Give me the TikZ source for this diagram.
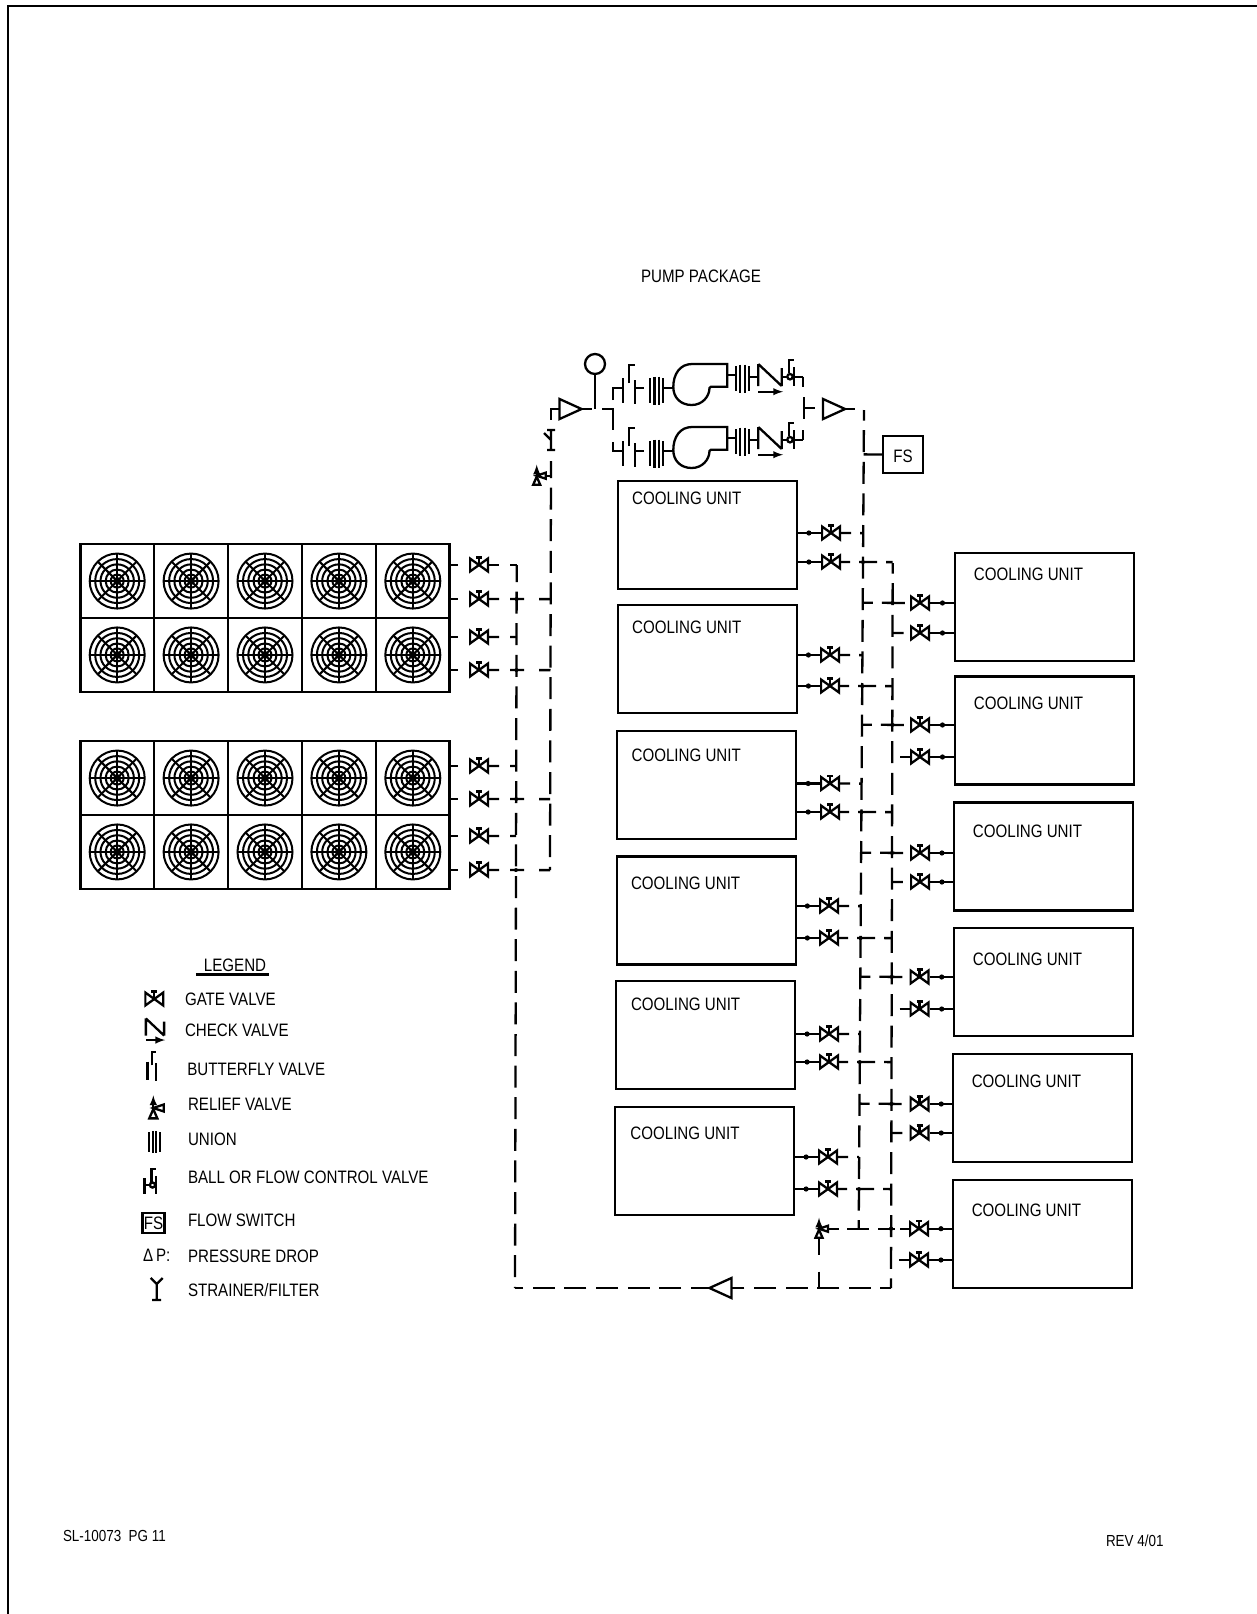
\documentclass[tikz,border=0pt]{standalone}
\usepackage{fontspec}
\setmainfont[FakeStretch=0.84]{Liberation Sans}
\usetikzlibrary{matrix,arrows,calc,shapes.geometric,decorations.markings}
\tikzset{
  drawtext/.style={font=\fontsize{18}{20}\selectfont, inner sep=0pt, outer sep=0pt},
  legendtext/.style={drawtext, anchor=west},
  doctext/.style={legendtext, font=\fontsize{16}{18}\selectfont},
  unitbox/.style={draw, minimum width=179pt, minimum height=108pt, inner sep=0pt, outer sep=0pt},
  fancell/.style={draw, minimum size=73.6pt, inner sep=0pt, outer sep=0pt,
    path picture={
      \begin{scope}[shift={(path picture bounding box.center)}, line width=2pt]
        \foreach \r in {27.5,22,16.7,11.5,6.5} \draw (0,0) circle[radius=\r];
        \foreach \a in {0,45,...,315} \draw (0,0) -- (\a:27.5);
        \fill (0,0) circle[radius=4];
      \end{scope}
    }},
  gatevalve/.style={minimum width=20pt, minimum height=20pt, inner sep=0pt, outer sep=0pt,
    path picture={
      \begin{scope}[shift={(path picture bounding box.center)}]
        \draw (-9,-6.5) -- (9,6.5) -- (9,-6.5) -- (-9,6.5) -- cycle;
        \draw (0,0) -- (0,-7) (-3,-7.5) -- (3,-7.5);
      \end{scope}
    }},
  reducer/.style={draw, fill=white, isosceles triangle, isosceles triangle stretches,
    minimum width=20pt, minimum height=22pt, inner sep=0pt, outer sep=0pt},
  pipe/.style={dash pattern=on 22pt off 9.6pt, dash phase=11.4pt},
  teedash/.style={dash pattern=on 10pt off 9pt on 6pt off 50pt},
  crossdash/.style={dash pattern=on 9pt off 9pt on 18pt off 9pt on 22pt off 50pt},
  rightdash/.style={dash pattern=on 10pt off 9pt on 23pt off 9pt on 10pt off 50pt},
  righttee/.style={dash pattern=on 11pt off 30pt},
  fantee/.style={dash pattern=on 10pt off 11pt on 8pt off 50pt},
  fancross/.style={dash pattern=on 10pt off 11pt on 14pt off 15pt on 14pt off 50pt},
  reliefline/.style={dash pattern=on 11pt off 8pt on 22pt off 9pt on 17pt off 5pt on 12pt off 50pt},
  reliefdrop/.style={dash pattern=on 17pt off 17pt on 20pt off 50pt},
  unitstub/.style={decoration={markings, mark=at position .5 with {\fill circle[radius=2.6];}}, postaction={decorate}},
  pics/unionjoint/.style={code={
    \draw (-6.5,-12.5) -- (-6.5,12.5) (-2.2,-14) -- (-2.2,14) (2.2,-14) -- (2.2,14) (6.5,-12.5) -- (6.5,12.5);
  }},
  pics/checkvalve/.style={code={
    \draw (-11.7,-11) -- (-11.7,11) (-11.7,-11) -- (11.7,11) (11.7,-7) -- (11.7,11);
    \draw[-latex] (-11.7,16.7) -- (13,16.7);
  }},
  pics/butterflyvalve/.style={code={
    \draw (-6,-6) -- (-6,19) (0,-1) -- (0,-19) -- (5.7,-19) (5.7,-4) -- (5.7,20);
  }},
  pics/ballvalve/.style={code={
    \draw (0,0) circle[radius=2.7];
    \draw (-1,-3.5) -- (-1,-16.7) -- (4,-16.7) (4,-9.7) -- (4,9.3) (-8.3,-7) -- (-8.3,9.3) (-8.3,0) -- (-2.7,0);
  }},
  pics/reliefvalve/.style={code={
    \draw (0,1) -- (-3.5,9) -- (3.5,9) -- cycle;
    \draw[-latex] (0,-1) -- (0,-11);
    \draw (0,0) -- (9,-3) -- (9,3) -- cycle;
    \coordinate (-side) at (9,0);
    \coordinate (-base) at (0,9);
  }},
  pics/strainer/.style={code={
    \draw (-4,-10) -- (4,-10) (0,-10) -- (0,10) (-4,10) -- (4,10) (0,0) -- (-7,-7);
  }},
  pics/strainerkey/.style={code={
    \draw (-6,-11) -- (0,-5) -- (6,-11) (0,-5) -- (0,11) (-4.5,11) -- (4.5,11);
  }},
  pics/pumpset/.style={code={
    \pic at (39.3,34) {butterflyvalve};
    \draw (45,38.3) -- (53.5,38.3);
    \pic at (66.7,40.5) {unionjoint};
    \draw (73.3,38.3) -- (83.3,38.3);
    \draw (137.3,14) -- (102,14) .. controls (90,14) and (83.3,24) .. (83.3,37)
      .. controls (83.3,48) and (91,55) .. (101.7,55) .. controls (112,55) and (119.3,47) .. (119.5,38)
      -- (121,36.7) -- (137.3,36.7) -- cycle;
    \draw (137.3,25) -- (145,25);
    \pic at (152.5,28.5) {unionjoint};
    \draw (160,26.7) -- (168.3,26.7);
    \pic at (180,25) {checkvalve};
    \pic at (200,26.7) {ballvalve};
    \draw (204,26.7) -- (213.3,26.7);
    \coordinate (-in) at (33.3,38.3);
    \coordinate (-out) at (213.3,26.7);
  }},
}

\begin{document}
\begin{tikzpicture}[x=1pt, y=-1pt, line width=2.3pt]
  \useasboundingbox (0,0) rectangle (1257,1614);
  \draw[line width=2.5pt] (1257,6) -- (8,6) -- (8,1614);

  \node[drawtext] (pumptitle) at (701,276) {PUMP PACKAGE};
  \node[doctext] (docid) at (63,1536) {SL-10073~~PG 11};
  \node[doctext] (docrev) at (1106,1541) {REV 4/01};

  \matrix (fanA) at (265,618) [matrix of nodes, nodes in empty cells, inner sep=0pt, column sep=-2pt, row sep=-2pt, nodes={fancell}]
  {
    & & & & \\
    & & & & \\
  };
  \matrix (fanB) at (265,815) [matrix of nodes, nodes in empty cells, inner sep=0pt, column sep=-2pt, row sep=-2pt, nodes={fancell}]
  {
    & & & & \\
    & & & & \\
  };

  \foreach \id/\cx/\cy/\tx/\ty in {1/707.3/535/686.7/498, 2/707.3/659/686.7/627, 3/706.8/785/686.2/755,
    4/706.2/910.6/685.6/883, 5/705.7/1035.2/685.6/1004, 6/704.7/1161.3/685/1133.5}{
    \node[unitbox] (lu\id) at (\cx,\cy) {};
    \node[drawtext] (lutext\id) at (\tx,\ty) {COOLING UNIT};
  }
  \foreach \id/\cx/\cy/\tx/\ty in {1/1044.4/606.9/1028.5/574.5, 2/1044.4/730.4/1028.5/703, 3/1043.4/856.5/1027.5/831,
    4/1043.4/982.1/1027.5/959.5, 5/1042.4/1107.8/1026.4/1081, 6/1042.4/1233.9/1026.4/1210.7}{
    \node[unitbox] (ru\id) at (\cx,\cy) {};
    \node[drawtext] (rutext\id) at (\tx,\ty) {COOLING UNIT};
  }

  \coordinate (pipeAtop) at (864,410);
  \coordinate (pipeAbot) at (858.7,1229);
  \coordinate (pipeBtop) at (892.7,563);
  \coordinate (pipeBbot) at (891,1288);
  \coordinate (pipeRtop) at (516.7,565);
  \coordinate (pipeRbot) at (515,1288);
  \coordinate (pipeSgap) at (551,420);
  \coordinate (pipeStop) at (551,461);
  \coordinate (pipeSbot) at (550,870);

  \draw[pipe] (pipeAtop) -- (pipeAbot);
  \draw[pipe] (pipeBtop) -- (pipeBbot);
  \draw[pipe] (pipeBbot) -- (pipeRbot);
  \draw[pipe, dash phase=5pt] (pipeRtop) -- (pipeRbot);
  \draw[pipe, dash phase=5pt] (pipeStop) -- (pipeSbot);
  \node[reducer, shape border rotate=180] (redR) at (725,1288) {};

  \foreach \id/\x/\ya/\yb in {1/831/533/562, 2/830/655/686, 3/830/783.5/812, 4/829/906/938, 5/829/1034/1062, 6/828/1157/1189}{
    \node[gatevalve] (lv\id-a) at (\x,\ya) {};
    \node[gatevalve] (lv\id-b) at (\x,\yb) {};
    \draw[unitstub] (lv\id-a.west -| lu\id.east) -- (lv\id-a.west);
    \draw[unitstub] (lv\id-b.west -| lu\id.east) -- (lv\id-b.west);
    \draw[teedash] (lv\id-a.east) -- ($(pipeAtop)!(lv\id-a.east)!(pipeAbot)$);
    \draw[crossdash] (lv\id-b.east) -- ($(pipeBtop)!(lv\id-b.east)!(pipeBbot)$);
    \fill ($(pipeAtop)!(lv\id-b.east)!(pipeAbot)$) circle[radius=2];
  }

  \foreach \id/\x/\ya/\yb in {1/920/603/633, 2/920/725/757, 3/920/853/882, 4/919.5/977/1009, 5/919.5/1104/1133, 6/919/1228.7/1260}{
    \node[gatevalve] (rv\id-a) at (\x,\ya) {};
    \node[gatevalve] (rv\id-b) at (\x,\yb) {};
    \draw[unitstub] (rv\id-a.east) -- (rv\id-a.east -| ru\id.west);
    \draw[unitstub] (rv\id-b.east) -- (rv\id-b.east -| ru\id.west);
    \fill ($(pipeBtop)!(rv\id-a.west)!(pipeBbot)$) circle[radius=2];
  }
  \foreach \id in {1,2,3,4,5}{
    \draw[rightdash] ($(pipeAtop)!(rv\id-a.west)!(pipeAbot)$) -- (rv\id-a.west);
  }
  \foreach \id in {1,3,5}{
    \draw[righttee] ($(pipeBtop)!(rv\id-b.west)!(pipeBbot)$) -- (rv\id-b.west);
  }
  \foreach \id in {2,4,6}{
    \coordinate (rs\id) at ([xshift=-10pt]rv\id-b.west);
    \draw (rs\id) -- (rv\id-b.west);
  }

  \foreach \id/\fan/\y in {1/fanA/565, 2/fanA/599, 3/fanA/637, 4/fanA/670, 5/fanB/766, 6/fanB/799, 7/fanB/836, 8/fanB/870}{
    \node[gatevalve] (fv\id) at (479,\y) {};
    \coordinate (fe\id) at ([xshift=8pt]fv\id.west -| \fan-1-5.east);
    \draw (fv\id.west -| \fan-1-5.east) -- (fe\id);
  }
  \draw[fantee] (fv1.east) -- (pipeRtop);
  \foreach \id in {3,5,7}{
    \draw[fantee] (fv\id.east) -- ($(pipeRtop)!(fv\id.east)!(pipeRbot)$);
  }
  \foreach \id in {2,4,6,8}{
    \draw[fancross] (fv\id.east) -- ($(pipeStop)!(fv\id.east)!(pipeSbot)$);
    \fill ($(pipeRtop)!(fv\id.east)!(pipeRbot)$) circle[radius=2];
  }

  \node[reducer] (redS) at (566,409) {};
  \node[reducer] (redD) at (829.5,409) {};
  \node[draw, circle, minimum size=20pt, inner sep=0pt, outer sep=0pt] (gauge) at (595,364) {};
  \coordinate (pumpTee) at (592,409);
  \coordinate (pumpHead) at (602,409);
  \coordinate (pumpDrop) at (612.7,430);
  \coordinate (pumpRiseU) at (612.7,400);
  \coordinate (pumpRiseL) at (612.7,442);
  \coordinate (headU) at (803.3,387);
  \coordinate (headL) at (803.3,430);
  \coordinate (headTop) at (804,397);
  \coordinate (headBot) at (804,419);
  \coordinate (headMid) at (804,408);
  \coordinate (headStub) at (815,408);
  \coordinate (headOut) at (855,409);
  \pic (pumpU) at (590,350) {pumpset};
  \pic (pumpL) at (590,413) {pumpset};
  \draw (redS.west) -| (pipeSgap);
  \draw (redS.east) -- (pumpTee);
  \draw (gauge.south) -- (gauge.south |- pumpHead);
  \draw (pumpHead) -| (pumpDrop);
  \draw (pumpRiseU) |- (pumpU-in);
  \draw (pumpRiseL) |- (pumpL-in);
  \draw (pumpU-out) -- (headU);
  \draw (pumpL-out) -- (headL);
  \draw (headTop) -- (headBot);
  \draw (headMid) -- (headStub);
  \draw (redD.east) -- (headOut);

  \node[draw, drawtext, minimum width=40pt, minimum height=37pt] (fsbox) at (903,454.5) {\raisebox{-3pt}[10pt][0pt]{FS}};
  \draw (fsbox.west) -- ($(pipeAtop)!(fsbox.west)!(pipeAbot)$);

  \pic at (551,440) {strainer};
  \pic (reliefS) at (536.7,475.7) {reliefvalve};
  \draw (reliefS-side) -- (reliefS-side -| pipeStop);
  \pic (reliefL) at (819,1228.7) {reliefvalve};
  \draw[reliefline] (reliefL-side) -- (rv6-a.west);
  \draw[reliefdrop] (reliefL-base) -- (reliefL-base |- pipeBbot);
  \fill (pipeBbot |- rv6-a.west) circle[radius=2];

  \node[drawtext] (legendtitle) at (235,965) {LEGEND};
  \draw ([xshift=-8pt,yshift=-3pt]legendtitle.south west) -- ([xshift=3pt,yshift=-3pt]legendtitle.south east);
  \node[gatevalve] (keygate) at (154.3,999) {};
  \node[legendtext] (keygatetext) at (185,999) {GATE VALVE};
  \pic[scale=.78] at (155,1027) {checkvalve};
  \node[legendtext] (keychecktext) at (185,1030) {CHECK VALVE};
  \pic[scale=.75] at (152,1066) {butterflyvalve};
  \node[legendtext] (keyflytext) at (187.3,1069.3) {BUTTERFLY VALVE};
  \pic[scale=1.15] at (153.3,1108) {reliefvalve};
  \node[legendtext] (keyrelieftext) at (188,1104) {RELIEF VALVE};
  \pic[scale=.8] at (154.5,1142) {unionjoint};
  \node[legendtext] (keyuniontext) at (188,1139) {UNION};
  \pic[scale=.95] at (152.5,1185) {ballvalve};
  \node[legendtext] (keyballtext) at (188,1177.7) {BALL OR FLOW CONTROL VALVE};
  \node[draw, drawtext, minimum width=22pt, minimum height=20pt] (keyfs) at (153.5,1223) {FS};
  \node[legendtext] (keyfstext) at (188,1220) {FLOW SWITCH};
  \node[legendtext] (keydp) at (143,1255) {Δ\,P:};
  \node[legendtext] (keydptext) at (188,1256) {PRESSURE DROP};
  \pic at (156.7,1289) {strainerkey};
  \node[legendtext] (keystrainertext) at (188,1290) {STRAINER/FILTER};
\end{tikzpicture}
\end{document}
